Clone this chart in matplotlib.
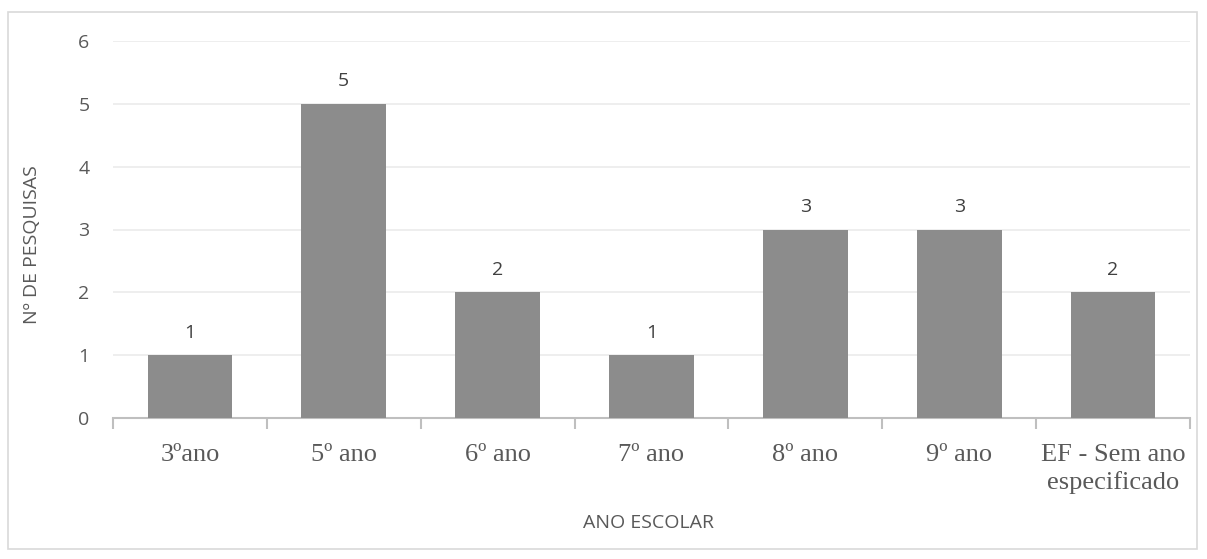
import matplotlib.pyplot as plt
import numpy as np
from matplotlib.patches import Rectangle

categorias = ["3ºano", "5º ano", "6º ano", "7º ano", "8º ano", "9º ano", "EF - Sem ano\nespecificado"]
pesquisas = [1, 5, 2, 1, 3, 3, 2]

fig = plt.figure(figsize=(12.07, 5.59), dpi=100)
ax = fig.add_axes([113/1207, 1-418/559, (1190-113)/1207, (418-41)/559])

x = np.arange(len(categorias))
ax.bar(x, pesquisas, width=0.55, color="#8c8c8c", zorder=3)
for xi, v in zip(x, pesquisas):
    ax.text(xi, v + 0.36, str(v), ha="center", va="center", fontsize=14,
            family="Open Sans", color="#404040")

ax.set_xlim(-0.5, len(categorias) - 0.5)
ax.set_ylim(0, 6)
ax.set_yticks(range(7))
ax.yaxis.grid(True, color="#ebebeb", lw=1.2, zorder=0)
ax.tick_params(axis="y", length=0, pad=17, labelsize=14, labelcolor="#595959")
for t in ax.get_yticklabels():
    t.set_family("Open Sans")

ax.set_xticks(x)
ax.set_xticklabels(categorias, family="Liberation Serif", fontsize=19, color="#595959",
                   linespacing=1.25)
ax.set_xticks(np.arange(-0.5, len(categorias)), minor=True)
ax.tick_params(axis="x", which="major", length=0, pad=19)
ax.tick_params(axis="x", which="minor", length=8, width=1.5, color="#bfbfbf")

for s in ["top", "right", "left"]:
    ax.spines[s].set_visible(False)
ax.spines["bottom"].set_color("#bfbfbf")
ax.spines["bottom"].set_linewidth(1.5)

ax.set_ylabel("Nº DE PESQUISAS", family="Open Sans", fontsize=14, color="#595959")
ax.yaxis.label.set_va("center")
ax.yaxis.set_label_coords((32-113)/1077, (418-245)/377)
ax.set_xlabel("ANO ESCOLAR", family="Open Sans", fontsize=14, color="#595959")
ax.xaxis.label.set_va("center")
ax.xaxis.set_label_coords(0.497, (418-523)/377)

fig.patches.append(Rectangle((8/1207, 10/559), 1189/1207, 537/559, transform=fig.transFigure,
                             fill=False, edgecolor="#d9d9d9", lw=1.2))

fig.savefig("out.png", dpi=100)
